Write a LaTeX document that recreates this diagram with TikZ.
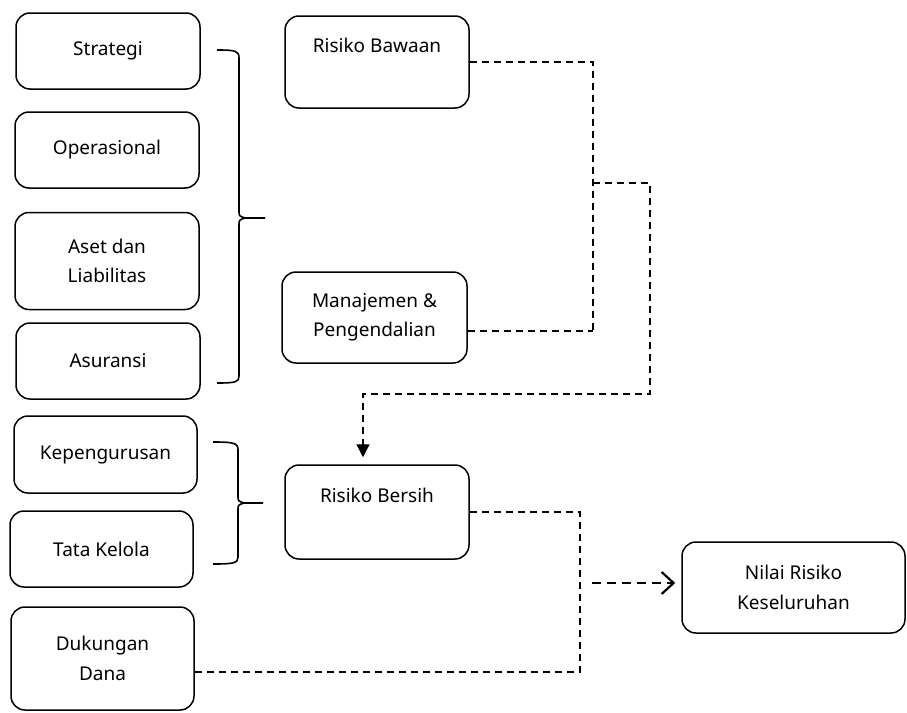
\documentclass[tikz,border=0pt]{standalone}
\usepackage{fontspec}
\setmainfont{Noto Sans}
\usetikzlibrary{arrows.meta,positioning,calc}

\begin{document}
\begin{tikzpicture}[x=1pt, y=-1pt,
    box/.style={draw, rounded corners=14pt, line width=1.5pt, minimum width=184pt, minimum height=76pt, align=center, font=\fontsize{19}{29.5}\selectfont, inner sep=0pt},
    upper/.style={text depth=34pt},
    brc/.style={line width=1.6pt},
    dline/.style={dash pattern=on 7pt off 5pt, line width=1.3pt},
    arr/.style={dline, -{Triangle[length=13pt,width=13pt]}, shorten >=7pt},
    barb/.style={dash pattern=on 9pt off 6pt, line width=2.2pt, -{Straight Barb[length=12pt,width=22pt]}, shorten >=6pt}
]
\useasboundingbox (0,0) rectangle (907,712);

% left column
\node[box] (strat) at (108,51) {Strategi};
\node[box] (oper) at (107,150) {Operasional};
\node[box, minimum height=97pt] (aset) at (107,261) {Aset dan\\Liabilitas};
\node[box] (asur) at (108,361) {Asuransi};
\node[box, minimum width=183pt, minimum height=77pt] (kepe) at (105.5,454.5) {Kepengurusan};
\node[box, minimum width=183pt] (tata) at (101.5,549) {Tata Kelola};
\node[box, minimum width=183pt, minimum height=103pt] (dana) at (102.5,658.5) {Dukungan\\Dana};

% middle and right
\node[box, upper, minimum height=92pt] (bawa) at (377,62) {Risiko Bawaan};
\node[box, minimum width=185pt, minimum height=91pt] (mana) at (374.5,317.5) {Manajemen \&\\Pengendalian};
\node[box, upper, minimum height=94pt] (bers) at (377,512) {Risiko Bersih};
\node[box, minimum width=223pt, minimum height=91pt] (nila) at (793.5,587.5) {Nilai Risiko\\Keseluruhan};

% braces
\draw[brc] (217,50) .. controls (236,50) and (239,51) .. (239,58) -- (239,211)
  .. controls (239,216) .. (245,218) -- (265,218);
\draw[brc] (245,218) .. controls (239,220) .. (239,225) -- (239,376)
  .. controls (239,382) and (236,383) .. (217,383);
\draw[brc] (213,442) .. controls (234,442) and (238,443) .. (238,450) -- (238,496)
  .. controls (238,501) .. (244,503) -- (263,503);
\draw[brc] (244,503) .. controls (238,505) .. (238,510) -- (238,557)
  .. controls (238,563) and (234,564) .. (213,564);

% connectors
\coordinate (jm) at (593,331);
\coordinate (jt) at (593,183);
\coordinate (jr) at (650,394);
\coordinate (jd) at (580,672);
\coordinate (ja) at (592,583);

\draw[dline] (bawa.east) -| (jm);
\draw[dline] (mana.east |- jm) -- (jm);
\draw[arr] (jt) -| (jr) -| ($(bers.north)+(-14,0)$);
\draw[dline] (bers.east) -| (jd) -- (dana.east |- jd);
\draw[barb] (ja) -- (ja -| nila.west);
\end{tikzpicture}
\end{document}
